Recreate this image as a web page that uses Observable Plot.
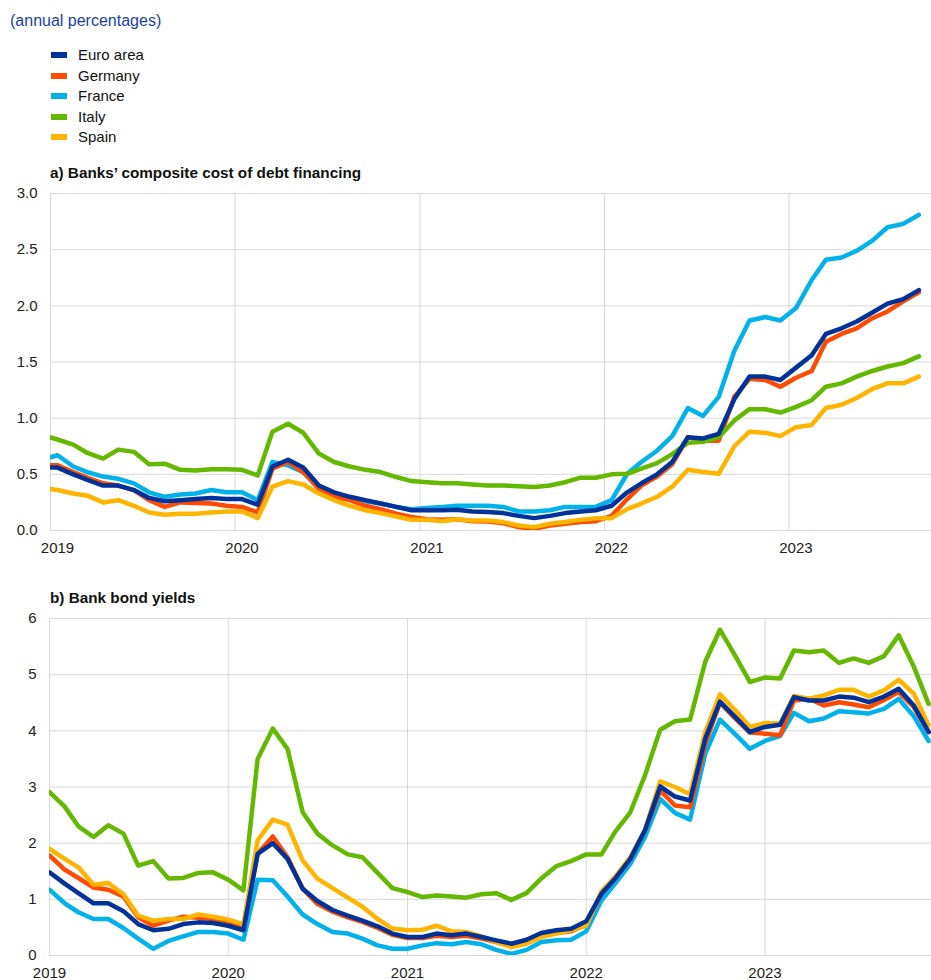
<!DOCTYPE html>
<html>
<head>
<meta charset="utf-8">
<script src="https://cdn.jsdelivr.net/npm/d3@7"></script>
<script src="https://cdn.jsdelivr.net/npm/@observablehq/plot@0.6"></script>
<style>
  body { margin: 0; background: #fff; font-family: Arial, "Liberation Sans", sans-serif; }
  #root { position: relative; width: 931px; height: 980px; overflow: hidden; }
  .abs { position: absolute; white-space: nowrap; }
  .sub { font-size: 16px; line-height: 18px; color: #1a3fa3; }
  .leg { font-size: 15px; line-height: 18px; color: #111; }
  .sw { position: absolute; width: 16px; height: 6px; }
  .ttl { font-size: 15.3px; line-height: 18px; font-weight: bold; color: #111; }
</style>
</head>
<body>
<div id="root"></div>
<script>
// ---------- Series metadata ----------
const seriesNames  = ["Euro area", "Germany", "France", "Italy", "Spain"];
const seriesColors = ["#003299", "#ff4b00", "#00b1ea", "#65b800", "#ffb400"];
const drawOrder    = ["France", "Germany", "Spain", "Italy", "Euro area"];

const subtitle = "(annual percentages)";
const titleA = "a) Banks’ composite cost of debt financing";
const titleB = "b) Bank bond yields";

// ---------- Panel a: composite cost of debt financing (monthly, Dec 2018 – Sep 2023) ----------
const euroAreaA = [0.56,
  0.56, 0.50, 0.45, 0.40, 0.40, 0.36, 0.29, 0.26, 0.27, 0.28, 0.29, 0.28,
  0.28, 0.23, 0.57, 0.63, 0.56, 0.40, 0.34, 0.30, 0.27, 0.24, 0.21, 0.18,
  0.18, 0.18, 0.185, 0.17, 0.165, 0.155, 0.13, 0.11, 0.13, 0.155, 0.17, 0.18,
  0.22, 0.34, 0.42, 0.50, 0.61, 0.83, 0.82, 0.86, 1.17, 1.37, 1.37, 1.34,
  1.45, 1.56, 1.75, 1.80, 1.86, 1.94, 2.02, 2.06, 2.14];
const germanyA = [0.58,
  0.58, 0.52, 0.47, 0.42, 0.40, 0.36, 0.27, 0.21, 0.25, 0.245, 0.24, 0.22,
  0.21, 0.16, 0.55, 0.61, 0.52, 0.37, 0.30, 0.27, 0.22, 0.19, 0.15, 0.12,
  0.10, 0.095, 0.10, 0.083, 0.08, 0.065, 0.03, 0.015, 0.045, 0.06, 0.075, 0.083,
  0.13, 0.28, 0.40, 0.48, 0.59, 0.83, 0.80, 0.80, 1.19, 1.35, 1.34, 1.28,
  1.36, 1.42, 1.68, 1.75, 1.80, 1.89, 1.95, 2.04, 2.12];
const franceA = [0.63,
  0.67, 0.57, 0.52, 0.48, 0.46, 0.42, 0.34, 0.30, 0.32, 0.33, 0.36, 0.34,
  0.34, 0.27, 0.61, 0.58, 0.52, 0.38, 0.33, 0.29, 0.26, 0.24, 0.21, 0.19,
  0.20, 0.21, 0.22, 0.22, 0.22, 0.21, 0.17, 0.17, 0.18, 0.21, 0.21, 0.21,
  0.27, 0.505, 0.61, 0.71, 0.84, 1.09, 1.02, 1.19, 1.60, 1.87, 1.90, 1.87,
  1.98, 2.23, 2.41, 2.43, 2.49, 2.58, 2.70, 2.73, 2.81];
const italyA = [0.85,
  0.81, 0.765, 0.69, 0.64, 0.72, 0.70, 0.59, 0.595, 0.54, 0.535, 0.545, 0.545,
  0.54, 0.49, 0.88, 0.95, 0.87, 0.685, 0.61, 0.57, 0.54, 0.52, 0.476, 0.44,
  0.43, 0.42, 0.42, 0.41, 0.40, 0.40, 0.395, 0.387, 0.40, 0.43, 0.47, 0.47,
  0.50, 0.505, 0.55, 0.60, 0.68, 0.78, 0.79, 0.83, 0.98, 1.08, 1.08, 1.05,
  1.10, 1.16, 1.28, 1.31, 1.37, 1.42, 1.46, 1.49, 1.55];
const spainA = [0.38,
  0.36, 0.33, 0.31, 0.25, 0.27, 0.22, 0.16, 0.14, 0.15, 0.15, 0.16, 0.17,
  0.17, 0.11, 0.39, 0.44, 0.41, 0.33, 0.27, 0.22, 0.18, 0.155, 0.125, 0.095,
  0.095, 0.083, 0.10, 0.09, 0.09, 0.075, 0.045, 0.03, 0.06, 0.075, 0.095, 0.11,
  0.11, 0.19, 0.24, 0.30, 0.39, 0.54, 0.52, 0.505, 0.75, 0.88, 0.87, 0.84,
  0.92, 0.94, 1.09, 1.12, 1.18, 1.26, 1.31, 1.31, 1.37];

// ---------- Panel b: bank bond yields (monthly, Jan 2019 – Dec 2023) ----------
const euroAreaB = [
  1.48, 1.28, 1.11, 0.93, 0.93, 0.79, 0.56, 0.45, 0.475, 0.56, 0.59, 0.58,
  0.53, 0.45, 1.81, 2.00, 1.72, 1.19, 0.97, 0.81, 0.71, 0.62, 0.52, 0.39,
  0.33, 0.33, 0.39, 0.36, 0.39, 0.33, 0.27, 0.21, 0.28, 0.40, 0.45, 0.475,
  0.61, 1.10, 1.37, 1.72, 2.23, 3.01, 2.83, 2.76, 3.86, 4.52, 4.25, 3.98,
  4.07, 4.11, 4.60, 4.54, 4.54, 4.61, 4.59, 4.51, 4.61, 4.75, 4.45, 3.98];
const germanyB = [
  1.78, 1.53, 1.38, 1.21, 1.17, 1.05, 0.68, 0.53, 0.62, 0.69, 0.67, 0.65,
  0.61, 0.50, 1.81, 2.12, 1.75, 1.19, 0.92, 0.78, 0.68, 0.60, 0.49, 0.37,
  0.31, 0.31, 0.35, 0.33, 0.35, 0.30, 0.24, 0.17, 0.25, 0.36, 0.40, 0.43,
  0.55, 1.10, 1.37, 1.72, 2.23, 2.94, 2.67, 2.64, 3.77, 4.50, 4.22, 3.97,
  3.95, 3.92, 4.54, 4.57, 4.45, 4.51, 4.47, 4.42, 4.55, 4.69, 4.42, 3.98];
const franceB = [
  1.17, 0.93, 0.77, 0.65, 0.65, 0.49, 0.30, 0.12, 0.26, 0.34, 0.42, 0.42,
  0.39, 0.28, 1.35, 1.34, 1.05, 0.73, 0.56, 0.42, 0.39, 0.30, 0.18, 0.12,
  0.12, 0.18, 0.22, 0.20, 0.24, 0.20, 0.10, 0.03, 0.10, 0.24, 0.27, 0.28,
  0.43, 0.98, 1.28, 1.63, 2.11, 2.79, 2.54, 2.42, 3.59, 4.20, 3.94, 3.68,
  3.82, 3.91, 4.32, 4.17, 4.22, 4.35, 4.33, 4.31, 4.39, 4.57, 4.26, 3.82];
const italyB = [
  2.91, 2.65, 2.30, 2.11, 2.32, 2.17, 1.60, 1.68, 1.37, 1.38, 1.47, 1.48,
  1.35, 1.16, 3.50, 4.04, 3.68, 2.55, 2.17, 1.96, 1.80, 1.75, 1.47, 1.20,
  1.13, 1.04, 1.07, 1.05, 1.03, 1.09, 1.11, 0.99, 1.11, 1.37, 1.59, 1.68,
  1.80, 1.80, 2.20, 2.55, 3.21, 4.02, 4.17, 4.20, 5.23, 5.80, 5.34, 4.87,
  4.95, 4.93, 5.43, 5.40, 5.43, 5.21, 5.29, 5.21, 5.33, 5.70, 5.14, 4.48];
const spainB = [
  1.90, 1.72, 1.57, 1.26, 1.29, 1.09, 0.71, 0.62, 0.65, 0.65, 0.73, 0.69,
  0.64, 0.56, 2.05, 2.42, 2.33, 1.69, 1.37, 1.20, 1.03, 0.87, 0.65, 0.48,
  0.45, 0.46, 0.53, 0.43, 0.42, 0.34, 0.24, 0.15, 0.21, 0.33, 0.39, 0.45,
  0.53, 1.14, 1.40, 1.75, 2.24, 3.10, 3.00, 2.87, 3.98, 4.65, 4.37, 4.07,
  4.14, 4.13, 4.62, 4.57, 4.63, 4.73, 4.73, 4.61, 4.72, 4.91, 4.66, 4.10];

// ---------- Axis ticks ----------
const yearTicks = [2019, 2020, 2021, 2022, 2023];
const yTicksA = [0, 0.5, 1.0, 1.5, 2.0, 2.5, 3.0];
const yTicksB = [0, 1, 2, 3, 4, 5, 6];

// ---------- Build ----------
const utc = (y, m, d) => new Date(Date.UTC(y, m, d));
const years = yearTicks.map(y => utc(y, 0, 1));
// panel a observations are plotted at mid-month, panel b at the start of the month
const datesA = d3.utcMonth.range(utc(2018, 11, 1), utc(2023, 9, 1)).map(d => d3.utcDay.offset(d, 14));
const datesB = d3.utcMonth.range(utc(2019, 0, 1), utc(2024, 0, 1));

const valuesA = {"Euro area": euroAreaA, "Germany": germanyA, "France": franceA, "Italy": italyA, "Spain": spainA};
const valuesB = {"Euro area": euroAreaB, "Germany": germanyB, "France": franceB, "Italy": italyB, "Spain": spainB};

const root = document.getElementById("root");
function addText(cls, text, left, top) {
  const el = document.createElement("div");
  el.className = "abs " + cls;
  el.textContent = text;
  el.style.left = left + "px";
  el.style.top = top + "px";
  root.appendChild(el);
  return el;
}

addText("sub", subtitle, 10, 12);
const legendCenters = [55, 76, 96, 117, 137];
seriesNames.forEach((name, i) => {
  const sw = document.createElement("div");
  sw.className = "sw";
  sw.style.left = "51px";
  sw.style.top = (legendCenters[i] - 3) + "px";
  sw.style.background = seriesColors[i];
  root.appendChild(sw);
  addText("leg", name, 78, legendCenters[i] - 9);
});
addText("ttl", titleA, 50, 164);
addText("ttl", titleB, 50, 589);

function panel({values, dates, xDomain, yDomain, yTicks, yFormat, xdx, height, marginTop, marginBottom, marginLeft}) {
  const data = drawOrder.flatMap(name => values[name].map((v, i) => ({date: dates[i], value: v, series: name})));
  return Plot.plot({
    width: 931, height, marginTop, marginBottom, marginLeft, marginRight: 0,
    style: {fontFamily: "Arial, 'Liberation Sans', sans-serif", fontSize: "15px", color: "#222", background: "transparent", overflow: "visible"},
    x: {type: "utc", domain: xDomain},
    y: {domain: yDomain},
    color: {domain: seriesNames, range: seriesColors},
    marks: [
      Plot.ruleY(yTicks, {stroke: "#d9d9d9", strokeWidth: 1}),
      Plot.ruleX(years, {stroke: "#d9d9d9", strokeWidth: 1}),
      Plot.axisY(yTicks, {tickSize: 0, tickPadding: 13, tickFormat: yFormat, fontSize: 15, label: null}),
      Plot.axisX(years, {tickSize: 0, tickPadding: 12, tickFormat: d3.utcFormat("%Y"), dx: xdx, fontSize: 15, label: null}),
      Plot.line(data, {x: "date", y: "value", z: "series", stroke: "series", strokeWidth: 4.5, clip: true})
    ]
  });
}

const svgA = panel({
  values: valuesA, dates: datesA,
  xDomain: [utc(2019, 0, 1), utc(2023, 9, 10)],
  yDomain: [0, 3], yTicks: yTicksA, yFormat: d3.format(".1f"), xdx: 7,
  height: 380, marginTop: 13, marginBottom: 30, marginLeft: 50
});
svgA.style.position = "absolute"; svgA.style.left = "0px"; svgA.style.top = "180px";
root.appendChild(svgA);

const svgB = panel({
  values: valuesB, dates: datesB,
  xDomain: [utc(2019, 0, 1), utc(2023, 11, 7)],
  yDomain: [0, 6], yTicks: yTicksB, yFormat: d3.format("d"), xdx: 0,
  height: 375, marginTop: 13, marginBottom: 25, marginLeft: 49
});
svgB.style.position = "absolute"; svgB.style.left = "0px"; svgB.style.top = "605px";
root.appendChild(svgB);
</script>
</body>
</html>
